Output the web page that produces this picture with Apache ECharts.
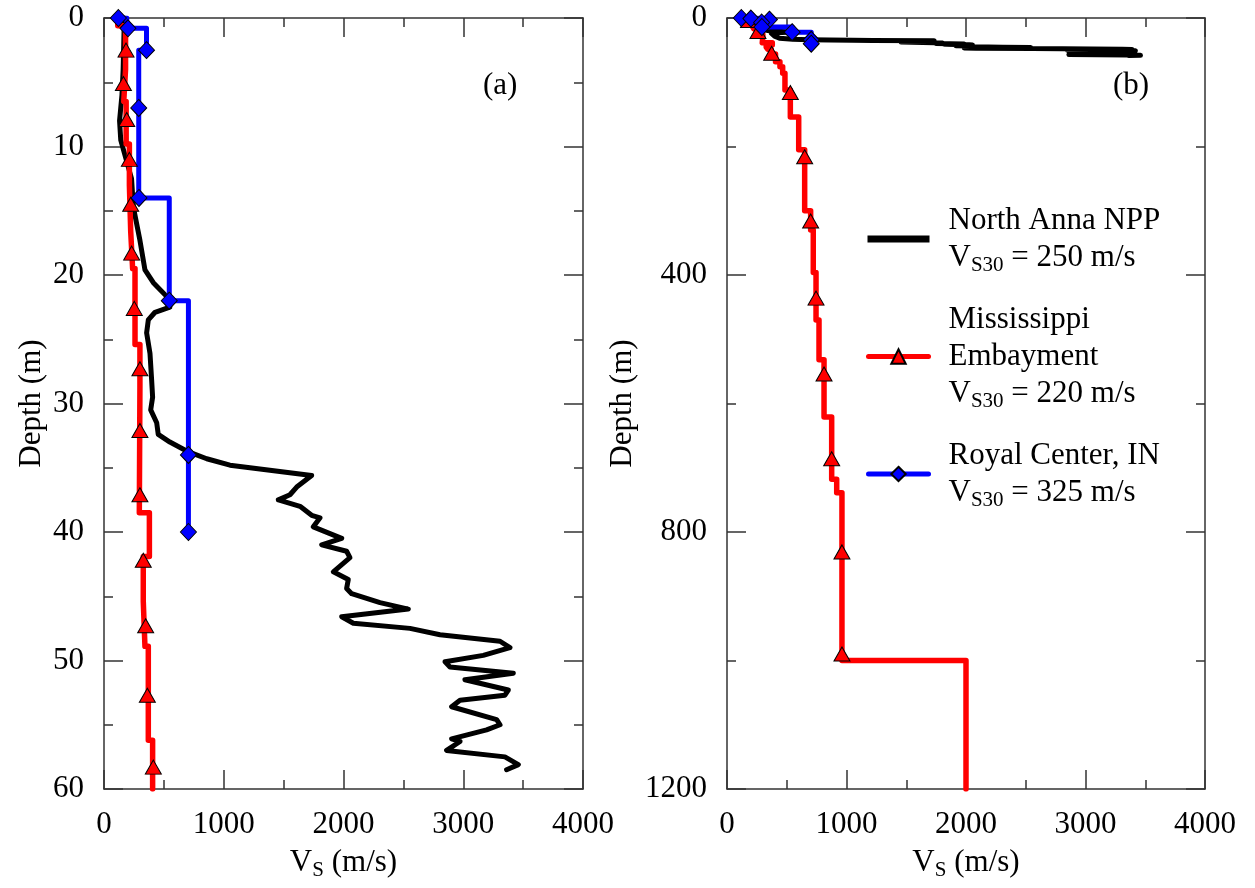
<!DOCTYPE html>
<html>
<head>
<meta charset="utf-8">
<script src="https://cdn.jsdelivr.net/npm/echarts@6/dist/echarts.min.js"></script>
<style>
html,body{margin:0;padding:0;background:#fff;}
#chart{width:1255px;height:888px;}
</style>
</head>
<body>
<div id="chart"></div>
<script>
// ---------------- DATA ----------------
const seriesNames = ['North Anna NPP', 'Mississippi Embayment', 'Royal Center, IN'];
const legendLabels = ['North Anna NPP', 'Mississippi\nEmbayment', 'Royal Center, IN'];
const vs30Values = ['250', '220', '325'];

// North Anna NPP: [Vs (m/s), depth (m)]
const northAnna = [[170,0],[165,2],[160,4],[150,6],[130,8],[140,9.5],[185,11],[230,12.5],[245,14.7],[300,17.3],[342,19.6],[412,20.6],[537,21.8],[550,22.5],[426,22.9],[370,23.5],[356,24.5],[384,26.1],[398,28.2],[406,29.5],[390,30.5],[440,31.5],[453,32.4],[550,33.0],[690,33.7],[858,34.3],[1052,34.8],[1219,35.0],[1734,35.6],[1609,36.5],[1553,37.1],[1456,37.5],[1637,38.0],[1734,38.7],[1804,38.9],[1748,39.6],[1985,40.5],[1818,41.0],[2026,41.5],[2054,42.0],[1915,43.1],[2040,43.7],[2026,44.4],[2068,44.8],[2305,45.5],[2541,46.0],[1985,46.6],[2082,47.1],[2555,47.5],[2806,48.0],[3307,48.5],[3390,49.0],[3167,49.6],[2848,50.1],[2889,50.5],[3418,51.0],[3014,51.5],[3376,52.3],[3348,52.7],[2973,53.1],[2903,53.6],[3279,54.6],[3307,55.0],[3195,55.4],[2903,56.1],[2973,56.3],[2861,57.0],[3348,57.5],[3460,58.1],[3362,58.5]];

// Mississippi Embayment, upper 60 m (step profile)
const embayShallow = [[115,0],[115,0.6],[180,0.6],[180,4],[165,4],[165,6.5],[185,6.5],[185,9.8],[212,9.8],[212,13],[223,13],[223,16.6],[239,16.6],[239,19.5],[259,19.5],[259,25.4],[300,25.4],[300,28.7],[295,28.7],[295,38.5],[379,38.5],[379,41.9],[328,41.9],[328,45.4],[342,45.4],[342,48.9],[370,48.9],[370,56.2],[406,56.2],[406,60]];
// Mississippi Embayment, below 60 m
const embayDeep = [[406,68],[443,68],[443,76],[466,76],[466,86],[485,86],[485,112],[530,112],[530,154],[600,154],[600,205],[650,205],[650,300],[700,300],[700,330],[722,330],[722,396],[745,396],[745,470],[770,470],[770,532],[812,532],[812,621],[876,621],[876,718],[918,718],[918,739],[962,739],[962,1000],[2000,1000],[2000,1200]];
const embayMarkersA = [[184,2.5],[162,5.1],[190,7.9],[212,11.0],[223,14.5],[231,18.3],[253,22.6],[300,27.3],[300,32.1],[300,37.1],[328,42.2],[348,47.3],[362,52.7],[412,58.3]];
const embayMarkersB = [[180,4],[259,21],[374,55],[530,116],[650,216],[700,316],[745,436],[812,554],[876,686],[962,831],[962,990]];

// Royal Center, IN
const royal = [[120,0],[190,0],[190,0.8],[355,0.8],[355,2.5],[290,2.5],[290,14],[545,14],[545,22],[705,22],[705,40]];
const royalMarkers = [[120,0],[200,0.8],[355,2.5],[290,7],[292,14],[545,22],[705,34],[705,40]];

// Axis ranges / ticks
const vsRange = [0, 4000], vsStep = 1000;
const depthRangeA = [0, 60], depthStepA = 10;
const depthRangeB = [0, 1200], depthStepB = 400;

// ---------------- STYLE ----------------
const FONT = '"Liberation Serif", "Times New Roman", Times, serif';
const AX = '#333';
const RED = '#ff0000', BLUE = '#0000ff', BLACK = '#000000';

function xAx(grid, pos, showLabel) {
  return {
    type: 'value', gridIndex: grid, position: pos,
    min: vsRange[0], max: vsRange[1], interval: vsStep,
    axisLine: {show: true, onZero: false, lineStyle: {color: AX, width: 1.5}},
    axisTick: {show: true, inside: true, length: 19, lineStyle: {color: AX, width: 1.5}},
    minorTick: {show: true, splitNumber: 2, length: 9, lineStyle: {color: AX, width: 1.5}},
    splitLine: {show: false},
    axisLabel: {show: showLabel, margin: 20, fontFamily: FONT, fontSize: 31, color: '#000', formatter: v => String(v)},
    name: showLabel ? '{a|V}{s|S}{a| (m/s)}' : '',
    nameLocation: 'middle', nameGap: 55,
    nameTextStyle: {fontFamily: FONT, color: '#000', rich: {
      a: {fontFamily: FONT, fontSize: 31, lineHeight: 37, color: '#000'},
      s: {fontFamily: FONT, fontSize: 21, lineHeight: 13, verticalAlign: 'bottom', color: '#000'}
    }}
  };
}
function yAx(grid, pos, showLabel, range, step, gap) {
  return {
    type: 'value', gridIndex: grid, position: pos, inverse: true,
    min: range[0], max: range[1], interval: step,
    axisLine: {show: true, onZero: false, lineStyle: {color: AX, width: 1.5}},
    axisTick: {show: true, inside: true, length: 19, lineStyle: {color: AX, width: 1.5}},
    minorTick: {show: true, splitNumber: 2, length: 9, lineStyle: {color: AX, width: 1.5}},
    splitLine: {show: false},
    axisLabel: {show: showLabel, margin: 20, fontFamily: FONT, fontSize: 31, color: '#000', formatter: v => String(v)},
    name: showLabel ? 'Depth (m)' : '',
    nameLocation: 'middle', nameGap: gap,
    nameTextStyle: {fontFamily: FONT, fontSize: 31, color: '#000'}
  };
}

function lineSeries(name, data, xi, yi, color, width, symbol) {
  return {
    type: 'line', name: name, data: data, xAxisIndex: xi, yAxisIndex: yi,
    symbol: symbol, symbolSize: 15, showSymbol: false,
    lineStyle: {color: color, width: width, cap: 'round', join: 'round'},
    itemStyle: {color: color, borderColor: '#000', borderWidth: 1},
    emphasis: {disabled: true}, animation: false, z: 2
  };
}
function markerSeries(name, data, xi, yi, color, symbol, size) {
  return {
    type: 'scatter', name: name, data: data, xAxisIndex: xi, yAxisIndex: yi,
    symbol: symbol, symbolSize: size,
    itemStyle: {color: color, borderColor: '#000', borderWidth: 1, opacity: 1},
    emphasis: {disabled: true}, animation: false, z: 3
  };
}

const series = [];
[0, 1].forEach(g => {
  const xi = g * 2, yi = g * 2;
  series.push(lineSeries(seriesNames[0], northAnna, xi, yi, BLACK, 5, 'none'));
  const embay = g === 0 ? embayShallow : embayShallow.concat(embayDeep);
  series.push(lineSeries(seriesNames[1], embay, xi, yi, RED, 5.5, 'triangle'));
  series.push(markerSeries('embay-markers-' + g, g === 0 ? embayMarkersA : embayMarkersB, xi, yi, RED, 'triangle', [16, 14]));
  series.push(lineSeries(seriesNames[2], royal, xi, yi, BLUE, 5, 'diamond'));
  series.push(markerSeries('royal-markers-' + g, royalMarkers, xi, yi, BLUE, 'diamond', [16, 17]));
});

const legendText = {};
seriesNames.forEach((n, i) => {
  legendText[n] = legendLabels[i].split('\n').map(l => '{a|' + l + '}').join('\n') +
    '\n{a|V}{s|S30}{a| = ' + vs30Values[i] + ' m/s}';
});

const option = {
  backgroundColor: '#fff',
  animation: false,
  grid: [
    {left: 104, top: 18, width: 479, height: 771, outerBoundsMode: 'none', containLabel: false},
    {left: 727, top: 18, width: 478, height: 771, outerBoundsMode: 'none', containLabel: false}
  ],
  xAxis: [xAx(0, 'bottom', true), xAx(0, 'top', false), xAx(1, 'bottom', true), xAx(1, 'top', false)],
  yAxis: [
    yAx(0, 'left', true, depthRangeA, depthStepA, 57),
    yAx(0, 'right', false, depthRangeA, depthStepA, 0),
    yAx(1, 'left', true, depthRangeB, depthStepB, 89),
    yAx(1, 'right', false, depthRangeB, depthStepB, 0)
  ],
  legend: {
    data: [
      {name: seriesNames[0], icon: 'path://M0,0H60V5H0Z'},
      {name: seriesNames[1]},
      {name: seriesNames[2]}
    ],
    orient: 'vertical', left: 866, top: 205, padding: 0,
    itemWidth: 60, itemHeight: 18, itemGap: 28,
    selectedMode: false,
    lineStyle: {width: 5},
    formatter: n => legendText[n],
    textStyle: {fontFamily: FONT, fontSize: 31, color: '#000', padding: [0, 0, 0, 15], rich: {
      a: {fontFamily: FONT, fontSize: 31, lineHeight: 37, color: '#000'},
      s: {fontFamily: FONT, fontSize: 21, lineHeight: 13, verticalAlign: 'bottom', color: '#000'}
    }}
  },
  graphic: [
    {type: 'text', left: 483, top: 70, style: {text: '(a)', font: '31px ' + FONT, fill: '#000'}},
    {type: 'text', left: 1113, top: 70, style: {text: '(b)', font: '31px ' + FONT, fill: '#000'}}
  ],
  series: series
};

const chart = echarts.init(document.getElementById('chart'), null, {renderer: 'canvas'});
chart.setOption(option);
</script>
</body>
</html>
